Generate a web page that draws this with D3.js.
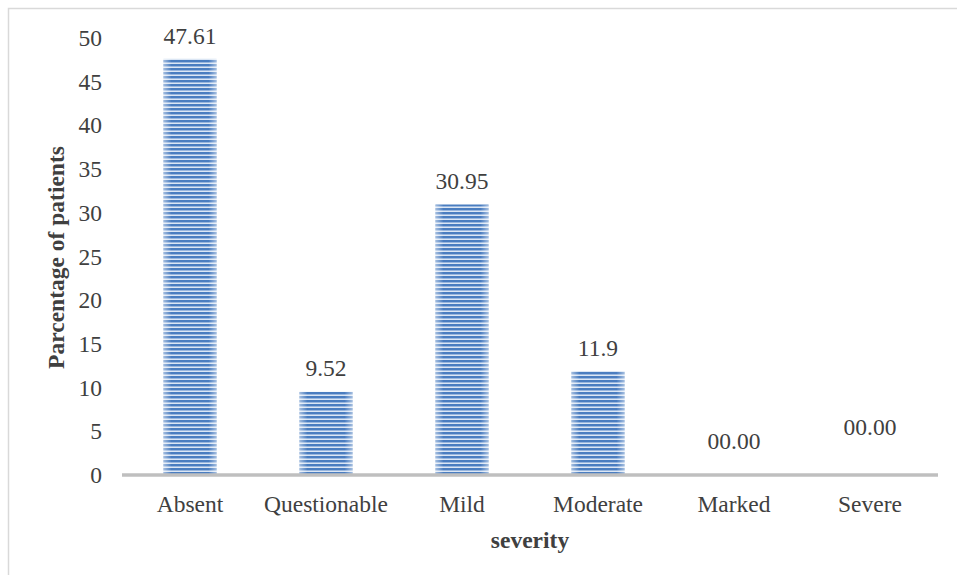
<!DOCTYPE html>
<html>
<head>
<meta charset="utf-8">
<script src="https://cdn.jsdelivr.net/npm/d3@7"></script>
<style>
  html, body { margin: 0; padding: 0; background: #fff; }
  svg { display: block; }
  text { font-family: "Liberation Serif", "Times New Roman", serif; }
</style>
</head>
<body>
<script>
// Severity categories and percentage of patients in each
const categories = ["Absent", "Questionable", "Mild", "Moderate", "Marked", "Severe"];
const values = [47.61, 9.52, 30.95, 11.9, 0, 0];
const valueLabels = ["47.61", "9.52", "30.95", "11.9", "00.00", "00.00"];
const yTicks = [0, 5, 10, 15, 20, 25, 30, 35, 40, 45, 50];

const W = 957, H = 575;
const margin = { left: 122, right: 19, top: 38, bottom: 100 };
const FONT = "'Liberation Serif', 'Times New Roman', serif";
const FS = 23.5;

const svg = d3.select("body").append("svg")
  .attr("width", W).attr("height", H);

// Striped blue fill for the bars, with lighter edges
const defs = svg.append("defs");
const pat = defs.append("pattern")
  .attr("id", "stripes")
  .attr("patternUnits", "userSpaceOnUse")
  .attr("width", 8).attr("height", 4);
pat.append("rect").attr("width", 8).attr("height", 4).attr("fill", "#dbe6f4");
pat.append("rect").attr("y", 0).attr("width", 8).attr("height", 2.2).attr("fill", "#4a7dc0");
pat.append("rect").attr("y", 2.2).attr("width", 8).attr("height", 0.8).attr("fill", "#8fb0dc");

const edge = defs.append("linearGradient").attr("id", "edgeShade")
  .attr("x1", "0%").attr("x2", "100%").attr("y1", "0%").attr("y2", "0%");
edge.append("stop").attr("offset", "0%").attr("stop-color", "#ffffff").attr("stop-opacity", 0.5);
edge.append("stop").attr("offset", "15%").attr("stop-color", "#ffffff").attr("stop-opacity", 0.0);
edge.append("stop").attr("offset", "85%").attr("stop-color", "#ffffff").attr("stop-opacity", 0.0);
edge.append("stop").attr("offset", "100%").attr("stop-color", "#ffffff").attr("stop-opacity", 0.5);

// Chart frame (extends past the right and bottom edges)
svg.append("rect")
  .attr("x", 8.5).attr("y", 8.5)
  .attr("width", W + 20).attr("height", H + 20)
  .attr("fill", "none").attr("stroke", "#d9d9d9").attr("stroke-width", 1.5);

const x = d3.scaleBand()
  .domain(categories)
  .range([margin.left, W - margin.right])
  .paddingInner(0.61).paddingOuter(0.305);

const y = d3.scaleLinear()
  .domain([0, 50])
  .range([H - margin.bottom, margin.top]);

// Y axis: tick labels only
const yAxis = svg.append("g")
  .attr("transform", `translate(${margin.left},0)`)
  .call(d3.axisLeft(y).tickValues(yTicks).tickSize(0).tickPadding(20));
yAxis.attr("font-family", FONT).attr("font-size", FS);
yAxis.select(".domain").remove();
yAxis.selectAll("text").attr("fill", "#404040");

// Bars
svg.append("g").selectAll("g.bar")
  .data(categories.map((c, i) => ({ c, v: values[i] })))
  .join("g").attr("class", "bar")
  .each(function(d) {
    const g = d3.select(this);
    const bx = x(d.c), bw = x.bandwidth();
    const by = y(d.v), bh = y(0) - y(d.v);
    g.append("rect").attr("x", bx).attr("y", by).attr("width", bw).attr("height", bh)
      .attr("fill", "url(#stripes)");
    g.append("rect").attr("x", bx).attr("y", by).attr("width", bw).attr("height", bh)
      .attr("fill", "url(#edgeShade)");
  });

// X axis: thick grey baseline and category labels
const xAxis = svg.append("g")
  .attr("transform", `translate(0,${y(0)})`)
  .call(d3.axisBottom(x).tickSize(0).tickPadding(20));
xAxis.attr("font-family", FONT).attr("font-size", FS);
xAxis.select(".domain")
  .attr("stroke", "#bfbfbf").attr("stroke-width", 3.5)
  .attr("d", `M${margin.left},0H${W - margin.right}`);
xAxis.selectAll("text").attr("fill", "#404040");

// Value labels; the two zero bars carry their labels lifted above the baseline
const labelLift = [15, 16, 15, 15, 26, 40];
svg.append("g")
  .attr("font-family", FONT).attr("font-size", FS).attr("fill", "#404040")
  .selectAll("text")
  .data(categories)
  .join("text")
  .attr("x", d => x(d) + x.bandwidth() / 2)
  .attr("y", (d, i) => y(values[i]) - labelLift[i])
  .attr("text-anchor", "middle")
  .text((d, i) => valueLabels[i]);

// Axis titles
svg.append("text")
  .attr("transform", `translate(64,${(y(0) + y(50)) / 2 + 1}) rotate(-90)`)
  .attr("text-anchor", "middle")
  .attr("font-family", FONT)
  .attr("font-size", FS).attr("font-weight", "bold").attr("fill", "#404040")
  .text("Parcentage of patients");

svg.append("text")
  .attr("x", (margin.left + W - margin.right) / 2)
  .attr("y", 548)
  .attr("text-anchor", "middle")
  .attr("font-family", FONT)
  .attr("font-size", FS).attr("font-weight", "bold").attr("fill", "#404040")
  .text("severity");
</script>
</body>
</html>
